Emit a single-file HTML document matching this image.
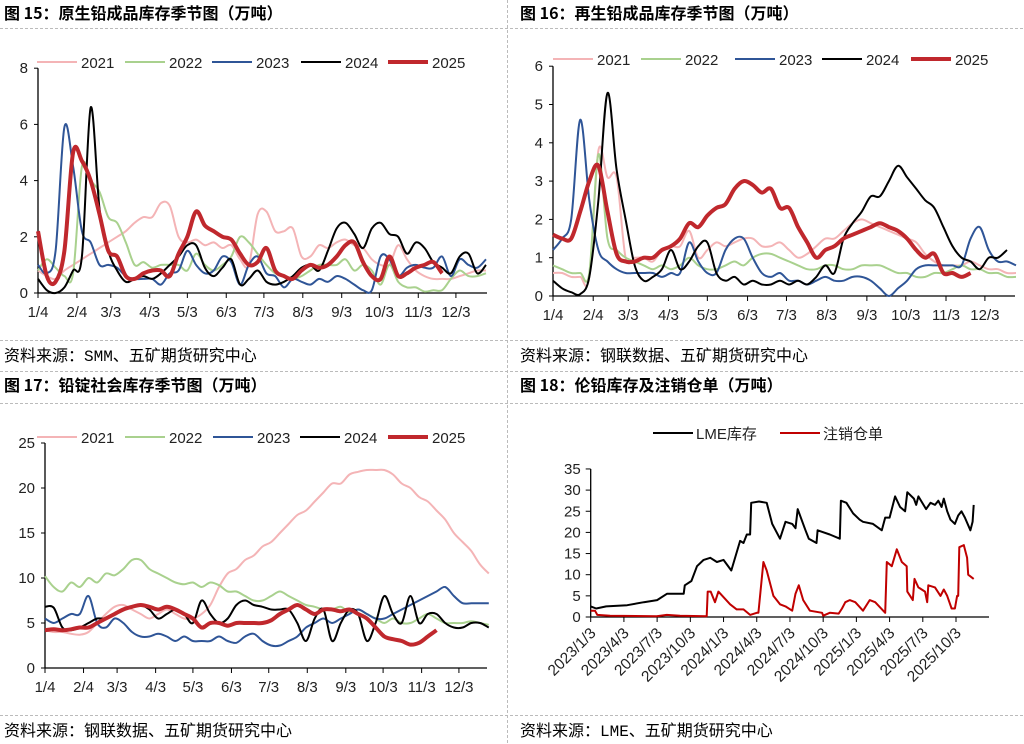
<!DOCTYPE html>
<html><head><meta charset="utf-8"><style>
body{margin:0;background:#fff;width:1024px;height:744px;overflow:hidden}
svg{display:block;font-family:"Liberation Sans","Noto Sans CJK SC",sans-serif}
.t{font-weight:bold;font-size:16px;font-family:"Noto Sans CJK SC","WenQuanYi Zen Hei",sans-serif}
.s{font-size:16px;font-family:"Liberation Mono","Noto Sans CJK SC",sans-serif}
</style></head><body>
<svg id="root" width="1024" height="744" viewBox="0 0 1024 744">
<g stroke="#bbb" stroke-dasharray="3,2">
<line x1="0" y1="28.5" x2="1024" y2="28.5"/><line x1="0" y1="340.5" x2="1024" y2="340.5"/><line x1="0" y1="371.5" x2="1024" y2="371.5"/>
<line x1="0" y1="403.5" x2="1024" y2="403.5"/><line x1="0" y1="715.5" x2="1024" y2="715.5"/><line x1="507.5" y1="0" x2="507.5" y2="744"/>
</g>
<text class="t" x="4" y="19">图 15：原生铅成品库存季节图（万吨）</text>
<text class="t" x="520" y="19">图 16：再生铅成品库存季节图（万吨）</text>
<text class="t" x="4" y="391">图 17：铅锭社会库存季节图（万吨）</text>
<text class="t" x="520" y="391">图 18：伦铅库存及注销仓单（万吨）</text>
<text class="s" x="4" y="361">资料来源：SMM、五矿期货研究中心</text>
<text class="s" x="520" y="361">资料来源：钢联数据、五矿期货研究中心</text>
<text class="s" x="4" y="736">资料来源：钢联数据、五矿期货研究中心</text>
<text class="s" x="520" y="736">资料来源：LME、五矿期货研究中心</text>
</svg>
<script>
const monthLabels=["1/4","2/4","3/3","4/3","5/3","6/3","7/3","8/3","9/3","10/3","11/3","12/3"];
const monthDays=[4,35,62,93,123,154,184,215,246,276,307,337];
const years=["2021","2022","2023","2024","2025"];
// chart 15 weekly values (week i = day 4+7i)
const c15_2021=[0.8,0.6,0.5,0.8,1.0,1.2,1.4,1.6,1.8,2.0,2.2,2.5,2.7,2.7,3.2,3.1,2.0,1.8,1.9,1.7,1.8,1.6,1.7,1.2,1.0,2.8,2.9,2.2,2.2,2.3,1.3,1.3,1.7,1.6,1.8,1.9,1.7,1.6,1.2,1.0,1.0,1.7,1.2,0.8,0.6,0.5,0.5,0.5,0.6,0.7,0.8,0.8];
const c15_2022=[0.8,1.2,0.9,0.6,0.7,4.5,4.0,3.6,2.7,2.5,1.8,1.0,1.1,0.9,1.0,1.0,1.0,0.8,1.4,1.0,0.8,1.0,1.3,2.0,1.8,1.4,1.0,0.7,0.6,0.5,0.6,0.8,1.0,1.0,1.0,1.2,0.8,1.0,0.8,0.3,1.0,0.4,0.2,0.2,0.05,0.1,0.1,0.5,0.8,0.6,0.6,0.7];
const c15_2023=[1.0,0.7,1.5,5.9,4.5,2.2,1.8,1.0,1.0,0.9,0.6,0.5,0.5,0.5,0.3,0.7,0.8,1.5,1.0,0.7,0.8,1.3,1.1,0.3,1.0,1.3,0.7,0.6,0.2,0.5,0.4,0.3,0.5,0.4,0.6,0.5,0.3,0.1,0.1,1.3,1.2,0.6,0.9,1.0,0.9,0.9,1.3,0.6,1.2,1.0,0.9,1.2];
const c15_2024=[0.5,0.1,0.0,0.2,0.8,1.3,6.6,3.0,1.5,0.8,0.4,0.5,0.6,0.5,0.7,1.0,1.3,1.7,1.7,0.9,0.6,0.9,1.2,0.3,0.5,0.8,0.4,0.3,0.4,0.6,0.9,1.0,0.8,1.5,2.3,2.5,2.1,1.6,2.3,2.5,2.1,2.0,1.4,1.8,1.6,1.1,0.9,0.7,1.3,1.4,0.7,1.0];
const c15_2025=[2.2,0.6,0.4,1.5,5.0,4.7,4.0,2.8,1.5,1.3,0.6,0.5,0.7,0.8,0.8,0.6,1.4,2.0,2.9,2.4,2.2,2.0,1.9,1.4,1.0,1.1,1.6,0.8,0.6,0.5,0.8,1.0,0.9,1.0,1.3,1.7,1.8,1.1,0.6,0.5,1.3,0.6,0.7,0.9,1.0,1.1,0.7];
const c15_ticks=[0,2,4,6,8];
// chart 16
const c16_2021=[0.6,0.6,0.5,0.5,0.5,3.8,3.1,3.1,1.0,1.0,1.0,0.9,1.2,1.3,1.3,1.7,1.0,1.2,1.4,1.3,1.4,1.5,1.5,1.3,1.3,1.4,1.2,1.0,1.1,1.3,1.5,1.5,1.7,1.9,2.0,1.9,1.8,1.7,1.6,1.5,1.4,1.1,0.9,0.8,0.8,0.8,0.9,0.8,0.7,0.7,0.6,0.6];
const c16_2022=[0.8,0.7,0.6,0.6,0.6,3.7,1.5,1.2,1.0,0.9,0.8,0.7,0.8,0.7,0.8,1.0,0.8,0.7,0.7,0.8,0.9,0.8,1.0,1.1,1.1,1.0,0.9,0.8,0.7,0.7,0.8,0.8,0.7,0.7,0.8,0.8,0.8,0.7,0.6,0.6,0.5,0.5,0.6,0.6,0.7,0.8,0.7,0.7,0.6,0.6,0.5,0.5];
const c16_2023=[1.2,1.5,2.0,4.6,2.5,1.2,0.9,0.7,0.6,0.6,0.6,0.6,0.5,0.6,0.6,1.4,0.9,0.6,0.6,1.2,1.5,1.5,1.0,0.6,0.5,0.6,0.4,0.4,0.3,0.4,0.5,0.4,0.4,0.5,0.5,0.4,0.2,0.0,0.2,0.4,0.7,0.8,0.8,0.8,0.8,0.8,1.5,1.8,1.2,0.9,0.9,0.8];
const c16_2024=[0.4,0.2,0.1,0.05,0.5,2.5,5.3,3.3,2.0,0.8,0.4,0.5,0.7,1.2,0.7,0.9,1.3,1.4,0.6,0.4,0.5,0.3,0.4,0.3,0.3,0.4,0.3,0.4,0.3,0.5,0.8,0.6,1.5,1.9,2.2,2.6,2.6,3.0,3.4,3.1,2.8,2.5,2.3,1.8,1.3,1.0,0.9,0.7,1.0,1.0,1.2];
const c16_2025=[1.6,1.5,1.5,2.2,3.0,3.4,2.2,1.1,0.9,0.9,1.0,1.0,1.2,1.3,1.5,1.9,1.8,2.1,2.3,2.4,2.8,3.0,2.9,2.7,2.8,2.3,2.3,1.8,1.4,1.0,1.2,1.3,1.5,1.6,1.7,1.8,1.9,1.8,1.7,1.5,1.2,1.0,1.1,0.6,0.6,0.5,0.6];
const c16_ticks=[0,1,2,3,4,5,6];
// chart 17
const c17_2021=[4.2,4.0,4.0,3.8,3.7,4.0,5.0,6.0,6.8,7.0,6.5,6.0,5.5,6.0,6.5,6.0,5.5,5.5,6.0,7.0,9.0,10.5,11,12,12.5,13.5,14,15,16,17,17.5,18.5,19.5,20.5,20.5,21.5,21.8,22,22,22,21.5,20.5,20,19,18.5,17.5,16.5,15,14,13,11.5,10.5];
const c17_2022=[10.2,9.0,8.5,9.5,9.0,10.0,9.5,10.5,10.3,11.0,12.0,12.0,11.0,10.5,10.0,9.5,9.3,9.5,9.0,9.5,9.2,8.5,8.5,8.0,7.5,7.5,8.0,8.5,8.0,7.5,7.0,6.8,6.5,6.5,6.8,6.2,6.5,6.0,5.5,5.0,5.5,5.0,5.0,5.5,6.0,5.5,5.0,5.0,5.0,5.2,5.0,4.8];
const c17_2023=[5.5,5.0,5.5,6.0,6.0,8.0,5.0,4.5,5.5,5.0,4.0,3.5,3.5,3.8,3.5,3.0,3.5,3.0,3.0,3.0,3.5,3.0,2.8,3.5,3.8,3.0,2.5,2.5,3.0,3.5,4.5,5.0,5.5,5.0,5.5,6.0,6.5,6.0,5.5,5.5,6.0,6.5,7.0,7.5,8.0,8.5,9.0,8.0,7.2,7.2,7.2,7.2];
const c17_2024=[6.8,6.7,4.5,4.2,4.5,5.0,5.5,5.5,6.0,6.5,6.8,7.0,6.5,5.5,6.0,6.5,6.0,5.0,7.5,6.0,5.0,5.5,7.0,7.5,7.0,6.8,6.5,6.5,6.5,5.0,3.0,5.5,6.5,3.0,5.0,6.5,6.0,3.0,5.0,8.0,6.0,5.0,8.0,5.0,6.0,6.0,5.0,4.5,4.5,5.0,5.0,4.5];
const c17_2025=[4.2,4.3,4.2,4.3,4.5,4.5,5.0,5.5,6.0,6.5,6.8,7.0,6.8,6.5,6.8,6.5,6.0,5.5,4.5,5.0,5.0,4.7,5.0,5.0,5.0,5.0,5.3,6.0,6.5,7.0,6.5,6.0,6.5,6.5,6.3,6.5,6.0,5.5,4.5,3.5,3.2,3.0,2.6,2.8,3.5,4.2];
const c17_ticks=[0,5,10,15,20,25];
// chart 18 (x = months since 2023/1/3)
const lmeMonths=[0,0.5,1.4,3.3,4.8,6.0,6.9,8.4,8.5,9.1,9.6,10.2,10.8,11.4,12.0,12.7,13.5,13.8,14.1,14.4,14.5,15.2,15.9,16.4,17.1,17.6,18.2,18.5,18.7,19.4,19.7,20.4,20.5,21.6,22.5,22.6,23.1,23.7,24.3,24.6,25.5,26.3,26.6,27.0,27.5,27.95,28.4,28.6,29.2,29.4,29.6,30.3,30.7,31.1,31.4,31.7,31.9,32.2,32.5,32.9,33.2,33.5,33.8,34.3,34.5,34.6];
const lmeStock=[2.5,2.0,2.5,2.8,3.5,4.0,5.5,5.5,7.5,8.5,12,13.5,14,13,13.5,11,18,17.5,19.5,19.5,27,27.3,27,22,18.5,22.5,22,21,25.5,20.5,18.5,17.5,20.5,19.5,18.5,27.5,27,24.5,23,22.5,22,20.5,23.5,23.5,28.5,26,25,29.5,28,26.5,28.5,25.5,27,26.5,27.5,26,28,25,23,22,24,25,23.5,20.5,22.5,26.5];
const cancelMonths=[0,0.39,0.6,1.75,5.96,6.87,8.07,10.48,10.57,10.84,11.23,11.54,12.59,13.19,13.8,14.4,15.0,15.15,15.6,15.9,16.5,17.1,17.6,18.2,18.5,18.8,19.2,19.8,20.9,21.0,21.6,22.4,22.7,23.0,23.4,23.9,24.6,25.2,25.7,26.6,26.75,27.2,27.65,28.1,28.55,28.6,29.1,29.25,29.6,30.2,30.4,30.5,31.1,31.6,31.9,32.2,32.6,32.9,33.1,33.2,33.3,33.7,34.0,34.1,34.6];
const cancelWarrants=[1.5,1.5,0.5,0.3,0.2,0.5,0.3,0.2,6,6,3.5,6,3,1.8,1.8,0.5,1,1,13,11,5,3,2.5,1.5,5.5,7.5,4,1.5,1,0.3,1,0.8,2,3.5,4,3.5,1.5,4,3.5,1,13,12,16,13,12,6,4,9,7,6,3.5,7.5,7,5,6.5,5,2,2,5,5,16.5,17,14,10,9];
const c18_ticks=[0,5,10,15,20,25,30,35];
const c18_xLabels=["2023/1/3","2023/4/3","2023/7/3","2023/10/3","2024/1/3","2024/4/3","2024/7/3","2024/10/3","2025/1/3","2025/4/3","2025/7/3","2025/10/3"];

const NS="http://www.w3.org/2000/svg",root=document.getElementById('root');
function mk(tag,at,parent){const e=document.createElementNS(NS,tag);for(const k in at)e.setAttribute(k,at[k]);(parent||root).appendChild(e);return e;}
function smooth(p){if(p.length<2)return'';let d='M'+p[0][0].toFixed(1)+','+p[0][1].toFixed(1);
 for(let i=0;i<p.length-1;i++){const a=p[i-1]||p[i],b=p[i],c=p[i+1],e=p[i+2]||c;
  const c1=[b[0]+(c[0]-a[0])/6,b[1]+(c[1]-a[1])/6],c2=[c[0]-(e[0]-b[0])/6,c[1]-(e[1]-b[1])/6];
  d+='C'+c1.map(v=>v.toFixed(1))+' '+c2.map(v=>v.toFixed(1))+' '+c[0].toFixed(1)+','+c[1].toFixed(1);}return d;}
const cols=['#f4b4b6','#a9d18e','#2f5597','#000000','#c0282d'],widths=[2,2,2,2,4];

function seasonal(name,cfg,series){
 const g=mk('g',{});
 
 
 const xs=d=>cfg.x0+(d-4)*cfg.ppd, ys=v=>cfg.y0-v*cfg.ppu;
 mk('line',{x1:cfg.x0,y1:cfg.y0,x2:cfg.xr,y2:cfg.y0,stroke:'#000','stroke-width':1.3},g);
 mk('line',{x1:cfg.x0,y1:cfg.y0,x2:cfg.x0,y2:ys(cfg.ticks[cfg.ticks.length-1]),stroke:'#000','stroke-width':1.3},g);
 cfg.ticks.forEach(t=>{mk('line',{x1:cfg.x0-4,y1:ys(t),x2:cfg.x0,y2:ys(t),stroke:'#000'},g);
  const tx=mk('text',{x:cfg.x0-10,y:ys(t)+5,'text-anchor':'end','font-size':15,fill:'#222'},g);tx.textContent=t;
  
  });
 monthDays.forEach((d,i)=>{mk('line',{x1:xs(d),y1:cfg.y0,x2:xs(d),y2:cfg.y0+5,stroke:'#000'},g);
  const tx=mk('text',{x:xs(d),y:cfg.y0+24,'text-anchor':'middle','font-size':15,fill:'#222'},g);tx.textContent=monthLabels[i];
  
  });
 series.forEach((vals,k)=>{const pts=vals.map((v,i)=>[xs(4+7*i),ys(v)]);
  const p=mk('path',{d:smooth(pts),fill:'none',stroke:cols[k],'stroke-width':widths[k],'stroke-linejoin':'round'},g);
  
  });
 cfg.leg.forEach((lx,k)=>{mk('line',{x1:lx,y1:cfg.ly,x2:lx+40,y2:cfg.ly,stroke:cols[k],'stroke-width':widths[k]},g);
  const tx=mk('text',{x:lx+44,y:cfg.ly+6,'font-size':15,fill:'#222'},g);tx.textContent=years[k];
  
  });
}
seasonal('chart15-primary-lead',{x0:38,ppd:1.255,y0:293,ppu:28.1,xr:487,ticks:c15_ticks,leg:[37,125,212,301,388],ly:62},[c15_2021,c15_2022,c15_2023,c15_2024,c15_2025]);
seasonal('chart16-secondary-lead',{x0:553,ppd:1.297,y0:296,ppu:38.3,xr:1015,ticks:c16_ticks,leg:[553,641,735,822,911],ly:59},[c16_2021,c16_2022,c16_2023,c16_2024,c16_2025]);
seasonal('chart17-social-inventory',{x0:45,ppd:1.243,y0:668,ppu:9,xr:487,ticks:c17_ticks,leg:[37,125,213,300,388],ly:437},[c17_2021,c17_2022,c17_2023,c17_2024,c17_2025]);

(function(){const g=mk('g',{});
 
 
 const x0=590.7,pm=11.07,y0=617,pu=4.23,xs=m=>x0+m*pm,ys=v=>y0-v*pu;
 mk('line',{x1:x0,y1:y0,x2:989,y2:y0,stroke:'#000','stroke-width':1.3},g);
 mk('line',{x1:x0,y1:y0,x2:x0,y2:ys(35),stroke:'#000','stroke-width':1.3},g);
 c18_ticks.forEach(t=>{mk('line',{x1:x0-5,y1:ys(t),x2:x0,y2:ys(t),stroke:'#000'},g);
  const tx=mk('text',{x:x0-10,y:ys(t)+5,'text-anchor':'end','font-size':15,fill:'#222'},g);tx.textContent=t;
  
  });
 c18_xLabels.forEach((l,i)=>{const x=xs(i*3);mk('line',{x1:x,y1:y0,x2:x,y2:y0+5,stroke:'#000'},g);
  const ax=x+6,ay=y0+17;
  const tx=mk('text',{x:ax,y:ay,'text-anchor':'end','font-size':15.5,fill:'#222',transform:'rotate(-45 '+ax+' '+ay+')'},g);tx.textContent=l;
  
  });
 const l1=mk('polyline',{points:lmeMonths.map((m,i)=>xs(m).toFixed(1)+','+ys(lmeStock[i]).toFixed(1)).join(' '),fill:'none',stroke:'#000','stroke-width':2,'stroke-linejoin':'round'},g);
 
 
 const l2=mk('polyline',{points:cancelMonths.map((m,i)=>xs(m).toFixed(1)+','+ys(cancelWarrants[i]).toFixed(1)).join(' '),fill:'none',stroke:'#c00000','stroke-width':2,'stroke-linejoin':'round'},g);
 
 
 mk('line',{x1:653,y1:433,x2:693,y2:433,stroke:'#000','stroke-width':2},g);
 const a=mk('text',{x:696,y:439,'font-size':15,fill:'#222'},g);a.textContent='LME库存';
 
 
 mk('line',{x1:780,y1:433,x2:820,y2:433,stroke:'#c00000','stroke-width':2},g);
 const b=mk('text',{x:823,y:439,'font-size':15,fill:'#222'},g);b.textContent='注销仓单';
 
 
})();
</script>
</body></html>
